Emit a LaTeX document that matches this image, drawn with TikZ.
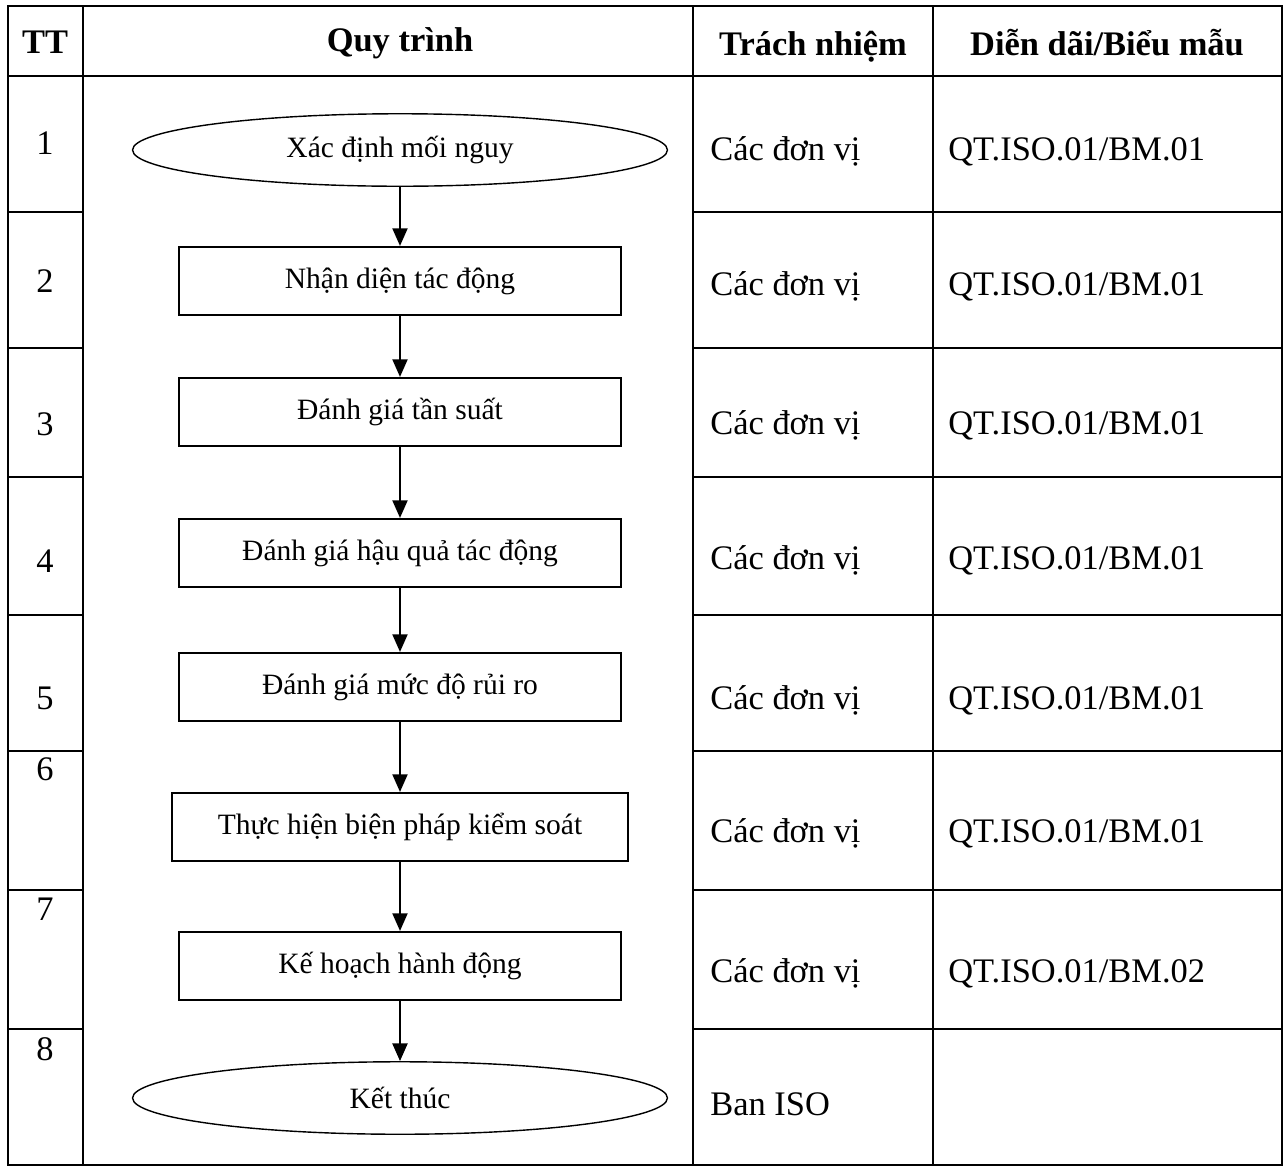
\documentclass[tikz,border=0pt]{standalone}
\usepackage{fontspec}
\setmainfont{Liberation Serif}
\usetikzlibrary{shapes.geometric,arrows.meta}

\begin{document}
\begin{tikzpicture}[x=0.02cm,y=-0.02cm,
    buoc/.style={draw,line width=1.2pt,minimum width=8.84cm,minimum height=1.36cm,inner sep=0pt,font=\fontsize{16.8}{20}\selectfont},
    mutbuoc/.style={draw,ellipse,line width=0.8pt,minimum width=10.7cm,minimum height=1.45cm,inner sep=0pt,font=\fontsize{16.8}{20}\selectfont},
    o/.style={inner sep=0pt,font=\fontsize{19.6}{23}\selectfont},
    tieude/.style={inner sep=0pt,anchor=base,font=\fontsize{19.6}{23}\selectfont\bfseries},
    ke/.style={line width=1.1pt},
    muiten/.style={line width=1.2pt,-{Triangle[width=8.5pt,length=10pt]}}]
  \useasboundingbox (0,0) rectangle (1285,1167);
  % khung bang
  \draw[ke] (8,6) rectangle (1282,1165);
  \foreach \xx in {83,693,933} \draw[ke] (\xx,6) -- (\xx,1165);
  \draw[ke] (83,76) -- (693,76);
  \foreach \yy in {76,212,348,477,615,751,890,1029} {
    \draw[ke] (8,\yy) -- (83,\yy);
    \draw[ke] (693,\yy) -- (1282,\yy);
  }
  % tieu de
  \node[tieude] (h1) at (45,53) {TT};
  \node[tieude] (h2) at (400,51) {Quy trình};
  \node[tieude] (h3) at (813,55) {Trách nhiệm};
  \node[tieude] (h4) at (1107,55) {Diễn dãi/Biểu mẫu};
  % so thu tu
  \foreach \i/\yy in {1/154,2/292,3/435,4/572,5/709,6/780,7/920,8/1060}
    \node[o,anchor=base] (tt\i) at (45,\yy) {\i};
  % trach nhiem va bieu mau
  \foreach \i/\yy/\ma in {1/160/01,2/295/01,3/434/01,4/569/01,5/709/01,6/842/01,7/982/02} {
    \node[o,anchor=base west] (tn\i) at (710,\yy) {Các đơn vị};
    \node[o,anchor=base west] (bm\i) at (948,\yy) {QT.ISO.01/BM.\ma};
  }
  \node[o,anchor=base west] (tn8) at (710,1115) {Ban ISO};
  % quy trinh
  \node[mutbuoc] (b1) at (400,150) {Xác định mối nguy};
  \node[buoc] (b2) at (400,281) {Nhận diện tác động};
  \node[buoc] (b3) at (400,412) {Đánh giá tần suất};
  \node[buoc] (b4) at (400,553) {Đánh giá hậu quả tác động};
  \node[buoc] (b5) at (400,687) {Đánh giá mức độ rủi ro};
  \node[buoc,minimum width=9.12cm] (b6) at (400,827) {Thực hiện biện pháp kiểm soát};
  \node[buoc] (b7) at (400,966) {Kế hoạch hành động};
  \node[mutbuoc] (b8) at (400,1098) {Kết thúc};
  \foreach \a/\b in {b1/b2,b2/b3,b3/b4,b4/b5,b5/b6,b6/b7,b7/b8}
    \draw[muiten] (\a.south) -- (\b.north);
\end{tikzpicture}
\end{document}
